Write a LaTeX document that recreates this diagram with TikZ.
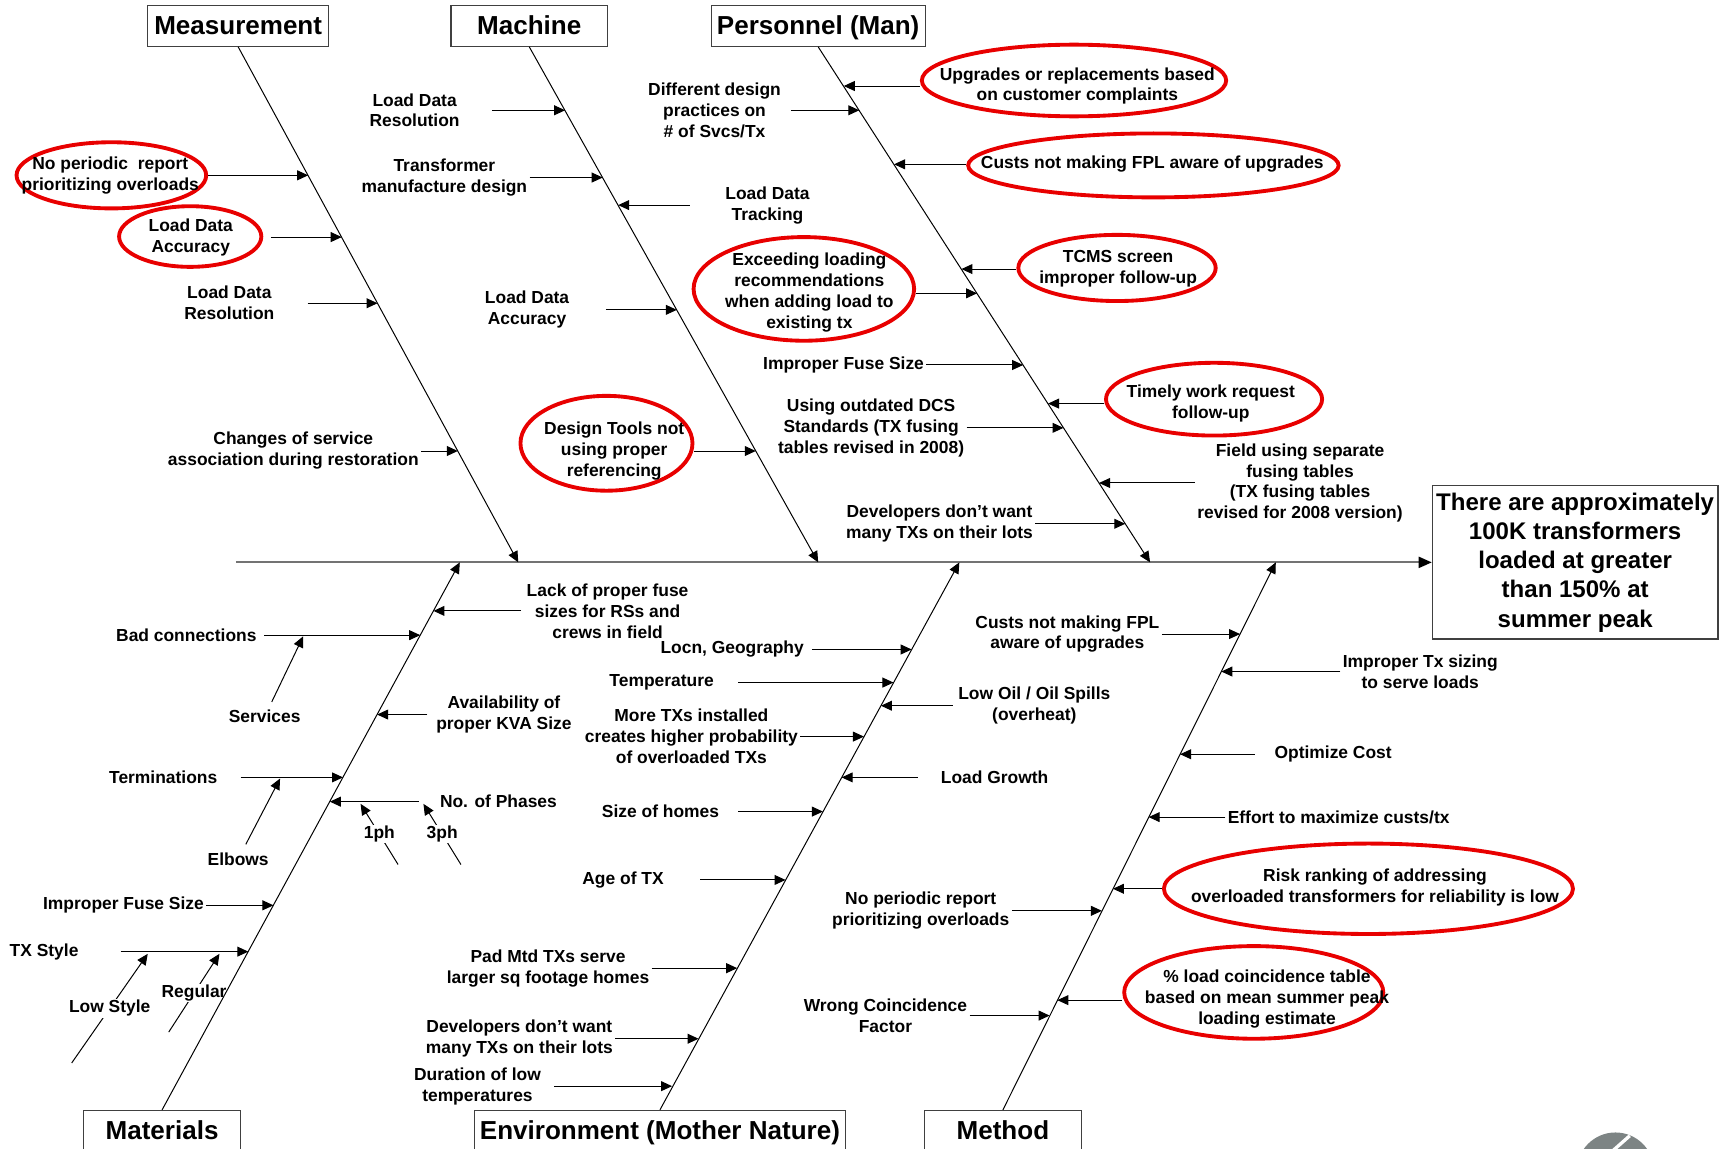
\documentclass[tikz,border=0pt]{standalone}
\usepackage{fontspec}
\setmainfont{Liberation Sans}
\usetikzlibrary{arrows.meta,shapes.geometric}
\definecolor{ringred}{RGB}{232,0,0}
\definecolor{logogray}{RGB}{125,132,132}

\begin{document}
\begin{tikzpicture}[x=1pt,y=-1pt,
  lbl/.style={font=\fontsize{15.8}{19}\selectfont\bfseries,align=center,inner sep=2pt},
  head/.style={draw=black!75,line width=1pt,font=\fontsize{23.6}{28}\selectfont\bfseries,minimum height=37pt,inner sep=0pt,text height=18.5pt,text depth=3.5pt},
  ring/.style={ellipse,draw=ringred,line width=3.5pt,inner sep=0pt},
  cause/.style={-{Triangle[length=10pt,width=9pt]},line width=0.9pt},
  spine/.style={-{Triangle[length=12pt,width=10pt,black]},draw=black!55,line width=2pt}]
\useasboundingbox (0,0) rectangle (1568,1042);

    % category boxes and effect
    \node[head,minimum width=164pt] (meas) at (216,23.5) {Measurement};
    \node[head,minimum width=142pt] (mach) at (480,23.5) {Machine};
    \node[head,minimum width=194pt] (pers) at (742,23.5) {Personnel (Man)};
    \node[head,minimum width=142pt] (mat) at (147,1025.5) {Materials};
    \node[head,minimum width=337pt] (env) at (598.5,1025.5) {Environment (Mother Nature)};
    \node[head,minimum width=143pt] (meth) at (909.5,1025.5) {Method};
    \node[draw=black!75,line width=1pt,minimum width=259pt,minimum height=139pt,align=center,inner sep=0pt,
          font=\fontsize{21.8}{26.5}\selectfont\bfseries] (eff) at (1428.5,510)
          {There are approximately\\100K transformers\\loaded at greater\\than 150\% at\\summer peak};
    \coordinate (tail) at (214,510);
    \coordinate (measEnd) at (470,510);
    \coordinate (machEnd) at (742,510);
    \coordinate (persEnd) at (1043,510);
    \coordinate (matEnd) at (417,510);
    \coordinate (envEnd) at (870,510);
    \coordinate (methEnd) at (1157,510);

    % Measurement
    \node[ring,minimum width=172pt,minimum height=60pt] (r1) at (101,159) {};
    \node[lbl] (nop1) at (100,159) {No periodic~ report\\prioritizing overloads};
    \node[ring,minimum width=129pt,minimum height=55pt] (r2) at (172.5,214.5) {};
    \node[lbl] (lda1) at (173,215) {Load Data\\Accuracy};
    \node[lbl] (ldr1) at (208,275) {Load Data\\Resolution};
    \node[lbl] (chg) at (266,409) {Changes of service\\association during restoration};
    \coordinate (m1) at (279.5,159);
    \coordinate (m2) at (309.9,215);
    \coordinate (m3) at (342.4,275);
    \coordinate (m4) at (415.2,409);
    \draw[cause] (r1.east |- m1) -- (m1);
    \draw[cause,shorten <=7pt] (r2.east |- m2) -- (m2);
    \draw[cause,shorten <=28pt] (ldr1) -- (m3);
    \draw[cause] (chg) -- (m4);

    % Machine
    \node[lbl] (ldr2) at (376,100) {Load Data\\Resolution};
    \node[lbl] (tmd) at (403,161) {Transformer\\manufacture design};
    \node[lbl] (ldt) at (696,186) {Load Data\\Tracking};
    \node[lbl] (lda2) at (478,281) {Load Data\\Accuracy};
    \node[ring,minimum width=156pt,minimum height=86pt] (r3) at (550,402) {};
    \node[lbl] (dtn) at (557,409) {Design Tools not\\using proper\\referencing};
    \coordinate (k1) at (512.5,100);
    \coordinate (k2) at (546.6,161);
    \coordinate (k3) at (560.6,186);
    \coordinate (k4) at (613.8,281);
    \coordinate (k5) at (685.4,409);
    \draw[cause,shorten <=27pt] (ldr2) -- (k1);
    \draw[cause] (tmd) -- (k2);
    \draw[cause,shorten <=30pt] (ldt) -- (k3);
    \draw[cause,shorten <=31pt] (lda2) -- (k4);
    \draw[cause] (r3.east |- k5) -- (k5);

    % Personnel
    \node[ring,minimum width=276pt,minimum height=65pt] (r4) at (974,73) {};
    \node[lbl] (upg) at (977,78) {Upgrades or replacements based\\on customer complaints};
    \node[lbl] (ddp) at (648,100) {Different design\\practices on\\\# of Svcs/Tx};
    \node[ring,minimum width=336pt,minimum height=58pt] (r5) at (1046,150) {};
    \node[lbl] (cnm1) at (1045,149) {Custs not making FPL aware of upgrades};
    \node[ring,minimum width=179pt,minimum height=60pt] (r6) at (1013,243) {};
    \node[lbl] (tcms) at (1014,244) {TCMS screen\\improper follow-up};
    \node[ring,minimum width=200pt,minimum height=94pt] (r7) at (729,262) {};
    \node[lbl] (exc) at (734,265) {Exceeding loading\\recommendations\\when adding load to\\existing tx};
    \node[lbl] (ifs1) at (765,331) {Improper Fuse Size};
    \node[ring,minimum width=196pt,minimum height=66pt] (r8) at (1101,362) {};
    \node[lbl] (twr) at (1098,366) {Timely work request\\follow-up};
    \node[lbl] (uod) at (790,388) {Using outdated DCS\\Standards (TX fusing\\tables revised in 2008)};
    \node[lbl] (fus) at (1179,438) {Field using separate\\fusing tables\\(TX fusing tables\\revised for 2008 version)};
    \node[lbl] (dev1) at (852,475) {Developers don’t want\\many TXs on their lots};
    \coordinate (p1) at (765.2,78);
    \coordinate (p2) at (779.3,100);
    \coordinate (p3) at (810.8,149);
    \coordinate (p4) at (871.9,244);
    \coordinate (p5) at (886.1,266);
    \coordinate (p6) at (927.9,331);
    \coordinate (p7) at (950.4,366);
    \coordinate (p8) at (964.5,388);
    \coordinate (p9) at (996.7,438);
    \coordinate (p10) at (1020.5,475);
    \draw[cause] (r4.west |- p1) -- (p1);
    \draw[cause,shorten <=7pt] (ddp) -- (p2);
    \draw[cause] (r5.west |- p3) -- (p3);
    \draw[cause] (r6.west |- p4) -- (p4);
    \draw[cause] (r7.east |- p5) -- (p5);
    \draw[cause] (ifs1) -- (p6);
    \draw[cause] (r8.west |- p7) -- (p7);
    \draw[cause] (uod) -- (p8);
    \draw[cause] (fus) -- (p9);
    \draw[cause] (dev1) -- (p10);

    % Materials
    \node[lbl] (lpf) at (551,554) {Lack of proper fuse\\sizes for RSs and\\crews in field};
    \node[lbl] (bad) at (169,576) {Bad connections};
    \node[lbl] (svc) at (240,650) {Services};
    \node[lbl] (avl) at (457,648) {Availability of\\proper KVA Size};
    \node[lbl] (ter) at (148,705) {Terminations};
    \node[lbl] (elb) at (216,779) {Elbows};
    \node[lbl] (nph) at (452,727) {No. of Phases};
    \node[lbl] (ifs2) at (112,821) {Improper Fuse Size};
    \node[lbl] (txs) at (40,863) {TX Style};
    \coordinate (a1) at (393.1,554);
    \coordinate (a2) at (381.1,576);
    \coordinate (a3) at (342.0,648);
    \coordinate (a4) at (311.1,705);
    \coordinate (a5) at (299.1,727);
    \coordinate (a6) at (248.0,821);
    \coordinate (a7) at (225.2,863);
    \coordinate (svcTip) at (275,577);
    \coordinate (elbTip) at (254,706);
    \coordinate (oneA) at (361,784);
    \coordinate (oneTip) at (327,729);
    \coordinate (thrA) at (418,784);
    \coordinate (thrTip) at (384,729);
    \coordinate (lowA) at (65,964);
    \coordinate (lowTip) at (134,865);
    \coordinate (regA) at (153,936);
    \coordinate (regTip) at (199,865);
    \draw[cause,shorten <=3pt] (lpf) -- (a1);
    \draw[cause,shorten <=5pt] (bad) -- (a2);
    \draw[cause,shorten <=6pt] (svc) -- (svcTip);
    \draw[cause,shorten <=6pt] (avl) -- (a3);
    \draw[cause,shorten <=19pt] (ter) -- (a4);
    \draw[cause,shorten <=6pt] (elb) -- (elbTip);
    \draw[cause,shorten <=17pt] (nph) -- (a5);
    \draw[cause] (oneA) -- node[lbl,fill=white,inner sep=1pt] (one) {1ph} (oneTip);
    \draw[cause] (thrA) -- node[lbl,fill=white,inner sep=1pt] (thr) {3ph} (thrTip);
    \draw[cause] (ifs2) -- (a6);
    \draw[cause,shorten <=36pt] (txs) -- (a7);
    \draw[cause] (lowA) -- node[lbl,fill=white,inner sep=1pt] (low) {Low Style} (lowTip);
    \draw[cause] (regA) -- node[lbl,fill=white,inner sep=1pt] (reg) {Regular} (regTip);

    % Environment
    \node[lbl] (loc) at (664,589) {Locn, Geography};
    \node[lbl] (tmp) at (600,619) {Temperature};
    \node[lbl] (oil) at (938,640) {Low Oil / Oil Spills\\(overheat)};
    \node[lbl] (mtx) at (627,668) {More TXs installed\\creates higher probability\\of overloaded TXs};
    \node[lbl] (lgr) at (902,705) {Load Growth};
    \node[lbl] (soh) at (599,736) {Size of homes};
    \node[lbl] (age) at (565,798) {Age of TX};
    \node[lbl] (pad) at (497,878) {Pad Mtd TXs serve\\larger sq footage homes};
    \node[lbl] (dev2) at (471,942) {Developers don’t want\\many TXs on their lots};
    \node[lbl] (dur) at (433,985) {Duration of low\\temperatures};
    \coordinate (e1) at (826.8,589);
    \coordinate (e2) at (810.3,619);
    \coordinate (e3) at (798.9,640);
    \coordinate (e4) at (783.5,668);
    \coordinate (e5) at (763.3,705);
    \coordinate (e6) at (746.3,736);
    \coordinate (e7) at (712.4,798);
    \coordinate (e8) at (668.6,878);
    \coordinate (e9) at (633.5,942);
    \coordinate (e10) at (609.5,985);
    \draw[cause,shorten <=5pt] (loc) -- (e1);
    \draw[cause,shorten <=20pt] (tmp) -- (e2);
    \draw[cause,shorten <=3pt] (oil) -- (e3);
    \draw[cause] (mtx) -- (e4);
    \draw[cause,shorten <=19pt] (lgr) -- (e5);
    \draw[cause,shorten <=15pt] (soh) -- (e6);
    \draw[cause,shorten <=31pt] (age) -- (e7);
    \draw[cause] (pad) -- (e8);
    \draw[cause] (dev2) -- (e9);
    \draw[cause,shorten <=10pt] (dur) -- (e10);

    % Method
    \node[lbl] (cnm2) at (968,575) {Custs not making FPL\\aware of upgrades};
    \node[lbl] (itx) at (1288,609) {Improper Tx sizing\\to serve loads};
    \node[lbl] (opt) at (1209,684) {Optimize Cost};
    \node[lbl] (eft) at (1214,741) {Effort to maximize custs/tx};
    \node[ring,minimum width=371pt,minimum height=82pt] (r9) at (1241,806) {};
    \node[lbl] (risk) at (1247,805) {Risk ranking of addressing\\overloaded transformers for reliability is low};
    \node[lbl] (nop2) at (835,826) {No periodic report\\prioritizing overloads};
    \node[ring,minimum width=235pt,minimum height=84pt] (r10) at (1137,900) {};
    \node[lbl] (pct) at (1149,906) {\% load coincidence table\\based on mean summer peak\\loading estimate};
    \node[lbl] (wcf) at (803,921) {Wrong Coincidence\\Factor};
    \coordinate (t1) at (1124.6,575);
    \coordinate (t2) at (1107.6,609);
    \coordinate (t3) at (1070.2,684);
    \coordinate (t4) at (1041.7,741);
    \coordinate (t5) at (1009.3,806);
    \coordinate (t6) at (999.3,826);
    \coordinate (t7) at (958.9,907);
    \coordinate (t8) at (951.9,921);
    \draw[cause] (cnm2) -- (t1);
    \draw[cause] (itx) -- (t2);
    \draw[cause,shorten <=16pt] (opt) -- (t3);
    \draw[cause] (eft) -- (t4);
    \draw[cause] (r9.west |- t5) -- (t5);
    \draw[cause] (nop2) -- (t6);
    \draw[cause] (r10.west |- t7) -- (t7);
    \draw[cause] (wcf) -- (t8);

    % spine and bones
    \draw[spine] (tail) -- (eff);
    \draw[cause] (meas.south) -- (measEnd);
    \draw[cause] (mach.south) -- (machEnd);
    \draw[cause] (pers.south) -- (persEnd);
    \draw[cause] (mat.north) -- (matEnd);
    \draw[cause] (env.north) -- (envEnd);
    \draw[cause] (meth.north) -- (methEnd);

    % logo corner
    \fill[logogray] (1465,1062) circle[radius=35];
    \draw[white,line width=3pt] (1461,1045) -- (1478,1030);
\end{tikzpicture}
\end{document}
